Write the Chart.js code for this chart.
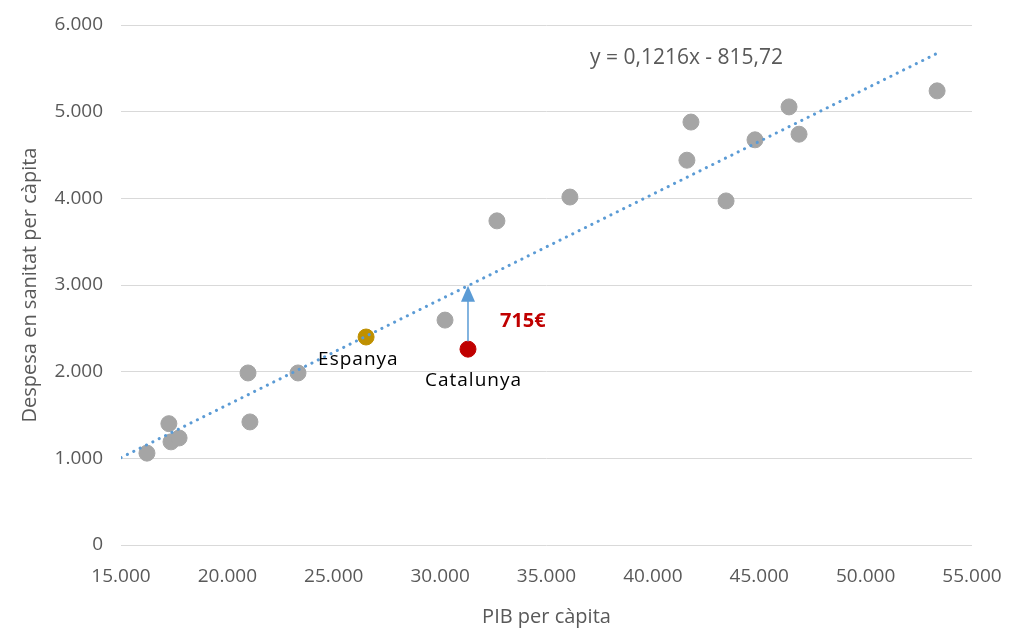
<!DOCTYPE html>
<html lang="ca">
<head>
<meta charset="UTF-8">
<title>Despesa en sanitat vs PIB per càpita</title>
<script src="https://cdn.jsdelivr.net/npm/chart.js@4"></script>
<style>
  html, body { margin: 0; padding: 0; background: #fff; }
  #wrap { width: 1012px; height: 629px; }
</style>
</head>
<body>
<div id="wrap"><canvas id="chart"></canvas></div>
<script>
// PIB per càpita (x) i despesa en sanitat per càpita (y) - altres regions
var pibAltres = [16220, 17250, 17350, 17730, 20970, 21060, 23320, 30230, 32670, 36100, 41600, 41790, 43440, 44800, 46400, 46870, 53360];
var despesaAltres = [1060, 1400, 1190, 1235, 1985, 1420, 1985, 2595, 3740, 4015, 4440, 4880, 3970, 4675, 5055, 4740, 5240];

var espanya = { x: 26520, y: 2400 };
var catalunya = { x: 31310, y: 2260 };

// recta de tendència
var pendent = 0.1216;
var origen = -815.72;
var tendenciaX = [15000, 53360];
var equacio = 'y = 0,1216x - 815,72';
var diferencia = '715€';

function punts(xs, ys) {
    return xs.map(function (x, i) { return { x: x, y: ys[i] }; });
}

function formatMiles(v) {
    return String(v).replace(/\B(?=(\d{3})+(?!\d))/g, '.');
}

var gris = '#595959';

// etiquetes, fletxa i equació
var anotacions = {
    id: 'anotacions',
    afterDatasetsDraw: function (chart) {
        var ctx = chart.ctx;
        var sx = chart.scales.x, sy = chart.scales.y;
        ctx.save();

        // fletxa de Catalunya fins a la recta
        var ax = sx.getPixelForValue(catalunya.x);
        var ay0 = sy.getPixelForValue(catalunya.y) - 8;
        var ay1 = sy.getPixelForValue(pendent * catalunya.x + origen);
        ctx.strokeStyle = '#5b9bd5';
        ctx.fillStyle = '#5b9bd5';
        ctx.lineWidth = 1.5;
        ctx.beginPath();
        ctx.moveTo(ax, ay0);
        ctx.lineTo(ax, ay1 + 14);
        ctx.stroke();
        ctx.beginPath();
        ctx.moveTo(ax, ay1);
        ctx.lineTo(ax - 7, ay1 + 16);
        ctx.lineTo(ax + 7, ay1 + 16);
        ctx.closePath();
        ctx.fill();

        ctx.textBaseline = 'middle';
        ctx.textAlign = 'left';
        ctx.font = '19px "Open Sans"';
        ctx.fillStyle = '#000';
        if ('letterSpacing' in ctx) ctx.letterSpacing = '1px';
        var ex = sx.getPixelForValue(espanya.x), ey = sy.getPixelForValue(espanya.y);
        ctx.fillText('Espanya', ex - 48, ey + 23);
        var cx = sx.getPixelForValue(catalunya.x), cy = sy.getPixelForValue(catalunya.y);
        ctx.fillText('Catalunya', cx - 43, cy + 31);
        if ('letterSpacing' in ctx) ctx.letterSpacing = '0px';

        ctx.font = 'bold 20px "Open Sans"';
        ctx.fillStyle = '#c00000';
        ctx.fillText(diferencia, cx + 32, cy - 28);

        ctx.font = '21px "Open Sans"';
        ctx.fillStyle = gris;
        ctx.fillText(equacio, 590, sy.getPixelForValue(5620));
        ctx.restore();
    }
};

new Chart(document.getElementById('chart'), {
    type: 'scatter',
    data: {
        datasets: [
            {
                label: 'Tendència',
                type: 'line',
                data: tendenciaX.map(function (x) { return { x: x, y: pendent * x + origen }; }),
                borderColor: '#5b9bd5',
                borderWidth: 3,
                borderDash: [0.1, 7],
                borderCapStyle: 'round',
                pointRadius: 0,
                fill: false,
                order: 0
            },
            {
                label: 'Regions',
                data: punts(pibAltres, despesaAltres),
                backgroundColor: '#a5a5a5',
                borderColor: '#a5a5a5',
                pointRadius: 8,
                order: 2
            },
            {
                label: 'Espanya',
                data: [espanya],
                backgroundColor: '#bf9000',
                borderColor: '#bf9000',
                pointRadius: 8,
                order: 1
            },
            {
                label: 'Catalunya',
                data: [catalunya],
                backgroundColor: '#c00000',
                borderColor: '#c00000',
                pointRadius: 8,
                order: 1
            }
        ]
    },
    options: {
        responsive: true,
        maintainAspectRatio: false,
        animation: false,
        layout: { padding: { left: 0, right: 40, top: 25, bottom: 0 } },
        plugins: {
            legend: { display: false },
            tooltip: { enabled: false }
        },
        scales: {
            x: {
                type: 'linear',
                min: 15000,
                max: 55000,
                ticks: {
                    stepSize: 5000,
                    color: gris,
                    font: { family: 'Open Sans', size: 19 },
                    padding: 20,
                    maxRotation: 0,
                    callback: function (v) { return formatMiles(v); }
                },
                grid: { display: false, drawTicks: false },
                border: { display: false },
                title: {
                    display: true,
                    text: 'PIB per càpita',
                    color: gris,
                    font: { family: 'Open Sans', size: 20 },
                    padding: { top: 8, bottom: 0 }
                },
                afterFit: function (s) {
                    s.height = 84;
                    s.paddingLeft = 0;
                    s.paddingRight = 0;
                }
            },
            y: {
                min: 0,
                max: 6000,
                ticks: {
                    stepSize: 1000,
                    color: gris,
                    font: { family: 'Open Sans', size: 19 },
                    padding: 18,
                    callback: function (v) { return formatMiles(v); }
                },
                grid: { color: '#d9d9d9', lineWidth: 1, drawTicks: false },
                border: { display: false },
                title: {
                    display: true,
                    text: 'Despesa en sanitat per càpita',
                    color: gris,
                    font: { family: 'Open Sans', size: 20 },
                    padding: { top: 18, bottom: 10 }
                },
                afterFit: function (s) {
                    s.width = 121;
                    s.paddingTop = 0;
                    s.paddingBottom = 0;
                }
            }
        }
    },
    plugins: [anotacions]
});
</script>
</body>
</html>
